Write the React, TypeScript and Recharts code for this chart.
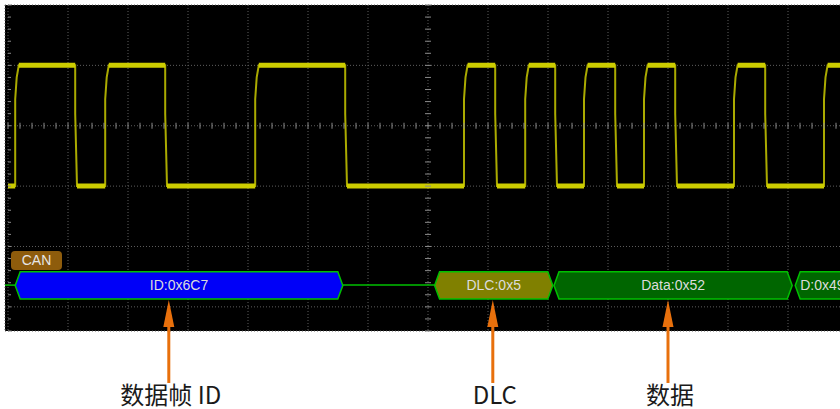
import { ComposedChart, XAxis, YAxis, CartesianGrid, Line, Scatter, ReferenceArea, ReferenceLine } from "recharts"

// time axis in screen divisions (14 div), level axis in divisions from top (0 = top of screen)
const risingEdges = [0.12, 1.62, 4.12, 7.6, 8.62, 9.6, 10.6, 12.1, 13.6]
const fallingEdges = [1.12, 2.62, 5.62, 8.12, 9.12, 10.12, 11.12, 12.62]
const HIGH = 1.0
const LOW = 3.0
const START_LEVEL = LOW
const END_TIME = 14

const busSegments = [
  { name: "ID:0x6C7", from: 0.12, to: 5.58, fill: "#0000f8" },
  { name: "DLC:0x5", from: 7.11, to: 9.08, fill: "#808000" },
  { name: "Data:0x52", from: 9.1, to: 13.07, fill: "#006600" },
  { name: "D:0x49", from: 13.12, to: 14, fill: "#006600" },
]
const BUS_TOP = 4.42
const BUS_BOTTOM = 4.87
const BUS_MID = 4.64

const annotations = [
  { t: 2.68, v: 4.886, text: "数据帧 ID" },
  { t: 8.08, v: 4.886, text: "DLC" },
  { t: 11.0, v: 4.886, text: "数据" },
]

const xTicks = [0, 1, 2, 3, 4, 5, 6, 7, 8, 9, 10, 11, 12, 13, 14]
const yTicks = [0, 1, 2, 3, 4, 5]

// build the trace polyline from the edge list
const edges = [
  ...risingEdges.map((t) => ({ t, up: true })),
  ...fallingEdges.map((t) => ({ t, up: false })),
].sort((a, b) => a.t - b.t)

const trace: { t: number; v: number | null }[] = [{ t: 0, v: START_LEVEL }]
const band: { t: number; v: number | null }[] = []
let level = START_LEVEL
let segStart = 0
for (const e of edges) {
  band.push({ t: segStart, v: level }, { t: e.t, v: level }, { t: e.t, v: null })
  if (e.up) {
    trace.push({ t: e.t, v: LOW }, { t: e.t, v: 1.56 }, { t: e.t + 0.025, v: 1.2 }, { t: e.t + 0.06, v: HIGH })
    level = HIGH
    segStart = e.t + 0.06
  } else {
    trace.push({ t: e.t, v: HIGH }, { t: e.t, v: 1.8 }, { t: e.t + 0.03, v: LOW })
    level = LOW
    segStart = e.t + 0.03
  }
}
trace.push({ t: END_TIME, v: level })
band.push({ t: segStart, v: level }, { t: END_TIME, v: level })

// graticule minor ticks (every 1/5 division)
const vAxisTicks = Array.from({ length: 28 }, (_, i) => ({ t: 7, v: i * 0.2 }))
const hAxisTicks = Array.from({ length: 71 }, (_, i) => ({ t: i * 0.2, v: 2 }))
const leftTicks = Array.from({ length: 28 }, (_, i) => ({ t: 0, v: i * 0.2 }))

const TICK = "#8a8a8a"

const Hexagon = (p: any) => {
  const { x, y, width, height, fill } = p
  const k = 5
  const cy = y + height / 2
  const pts = `${x},${cy} ${x + k},${y} ${x + width - k},${y} ${x + width},${cy} ${x + width - k},${y + height} ${x + k},${y + height}`
  return <polygon points={pts} fill={fill} stroke="#00c000" strokeWidth={1.5} />
}

const Arrow = (p: any) => {
  const { cx, cy, payload } = p
  const c = "#e8700c"
  return (
    <g>
      <line x1={cx} y1={cy + 22} x2={cx} y2={cy + 83} stroke={c} strokeWidth={3} />
      <polygon points={`${cx},${cy} ${cx - 5.5},${cy + 27} ${cx + 5.5},${cy + 27}`} fill={c} />
      <text
        x={cx + 2}
        y={cy + 104}
        textAnchor="middle"
        fontSize={24}
        fontFamily="'Noto Sans CJK SC', sans-serif"
        fill="#1a1a1a"
      >
        {payload.text}
      </text>
    </g>
  )
}

export default function App() {
  return (
    <div style={{ position: "absolute", left: 0, top: 0, width: 840, height: 409, overflow: "hidden", background: "#fff" }}>
      <ComposedChart
        width={848}
        height={409}
        margin={{ top: 5, right: 0, bottom: 78, left: 5 }}
        style={{ fontFamily: "'Liberation Sans', Arial, sans-serif" }}
      >
        <XAxis type="number" dataKey="t" domain={[-0.05, 14]} ticks={xTicks} hide />
        <YAxis type="number" dataKey="v" domain={[0, 5.4]} ticks={yTicks} reversed hide />
        <CartesianGrid fill="#000" fillOpacity={1} stroke="#5e5e5e" strokeDasharray="1 2" />

        <Scatter data={vAxisTicks} isAnimationActive={false}
          shape={(p: any) => <line x1={p.cx - 3} x2={p.cx + 3} y1={p.cy} y2={p.cy} stroke={TICK} strokeWidth={1} />} />
        <Scatter data={hAxisTicks} isAnimationActive={false}
          shape={(p: any) => <line x1={p.cx} x2={p.cx} y1={p.cy - 3} y2={p.cy + 3} stroke={TICK} strokeWidth={1} />} />
        <Scatter data={leftTicks} isAnimationActive={false}
          shape={(p: any) => <line x1={p.cx} x2={p.cx + 3} y1={p.cy} y2={p.cy} stroke={TICK} strokeWidth={1} />} />

        <ReferenceLine segment={[{ x: -0.05, y: BUS_MID }, { x: busSegments[0].from, y: BUS_MID }]} stroke="#00c000" strokeWidth={1.5} />
        <ReferenceLine segment={[{ x: busSegments[0].to, y: BUS_MID }, { x: busSegments[1].from, y: BUS_MID }]} stroke="#00c000" strokeWidth={1.5} />

        {busSegments.map((s, i) => (
          <ReferenceArea
            key={s.name}
            x1={s.from}
            x2={s.to}
            y1={BUS_TOP}
            y2={BUS_BOTTOM}
            fill={s.fill}
            shape={Hexagon}
            label={{
              value: s.name,
              position: i === 3 ? "insideLeft" : "center",
              offset: 5,
              fill: "#dcdcdc",
              fontSize: 14,
            }}
          />
        ))}

        <ReferenceArea
          x1={0.05}
          x2={0.9}
          y1={4.075}
          y2={4.39}
          shape={(p: any) => <rect x={p.x} y={p.y} width={p.width} height={p.height} rx={4} fill="#8e5c0c" />}
          label={{ value: "CAN", position: "center", fill: "#e6e6e6", fontSize: 14 }}
        />

        <Line data={trace} dataKey="v" type="linear" dot={false} stroke="#aaaa00" strokeWidth={2} isAnimationActive={false} />
        <Line data={band} dataKey="v" type="linear" dot={false} stroke="#cccc00" strokeWidth={5} connectNulls={false} isAnimationActive={false} />

        <Scatter data={annotations} isAnimationActive={false} shape={Arrow} />
      </ComposedChart>
    </div>
  )
}
